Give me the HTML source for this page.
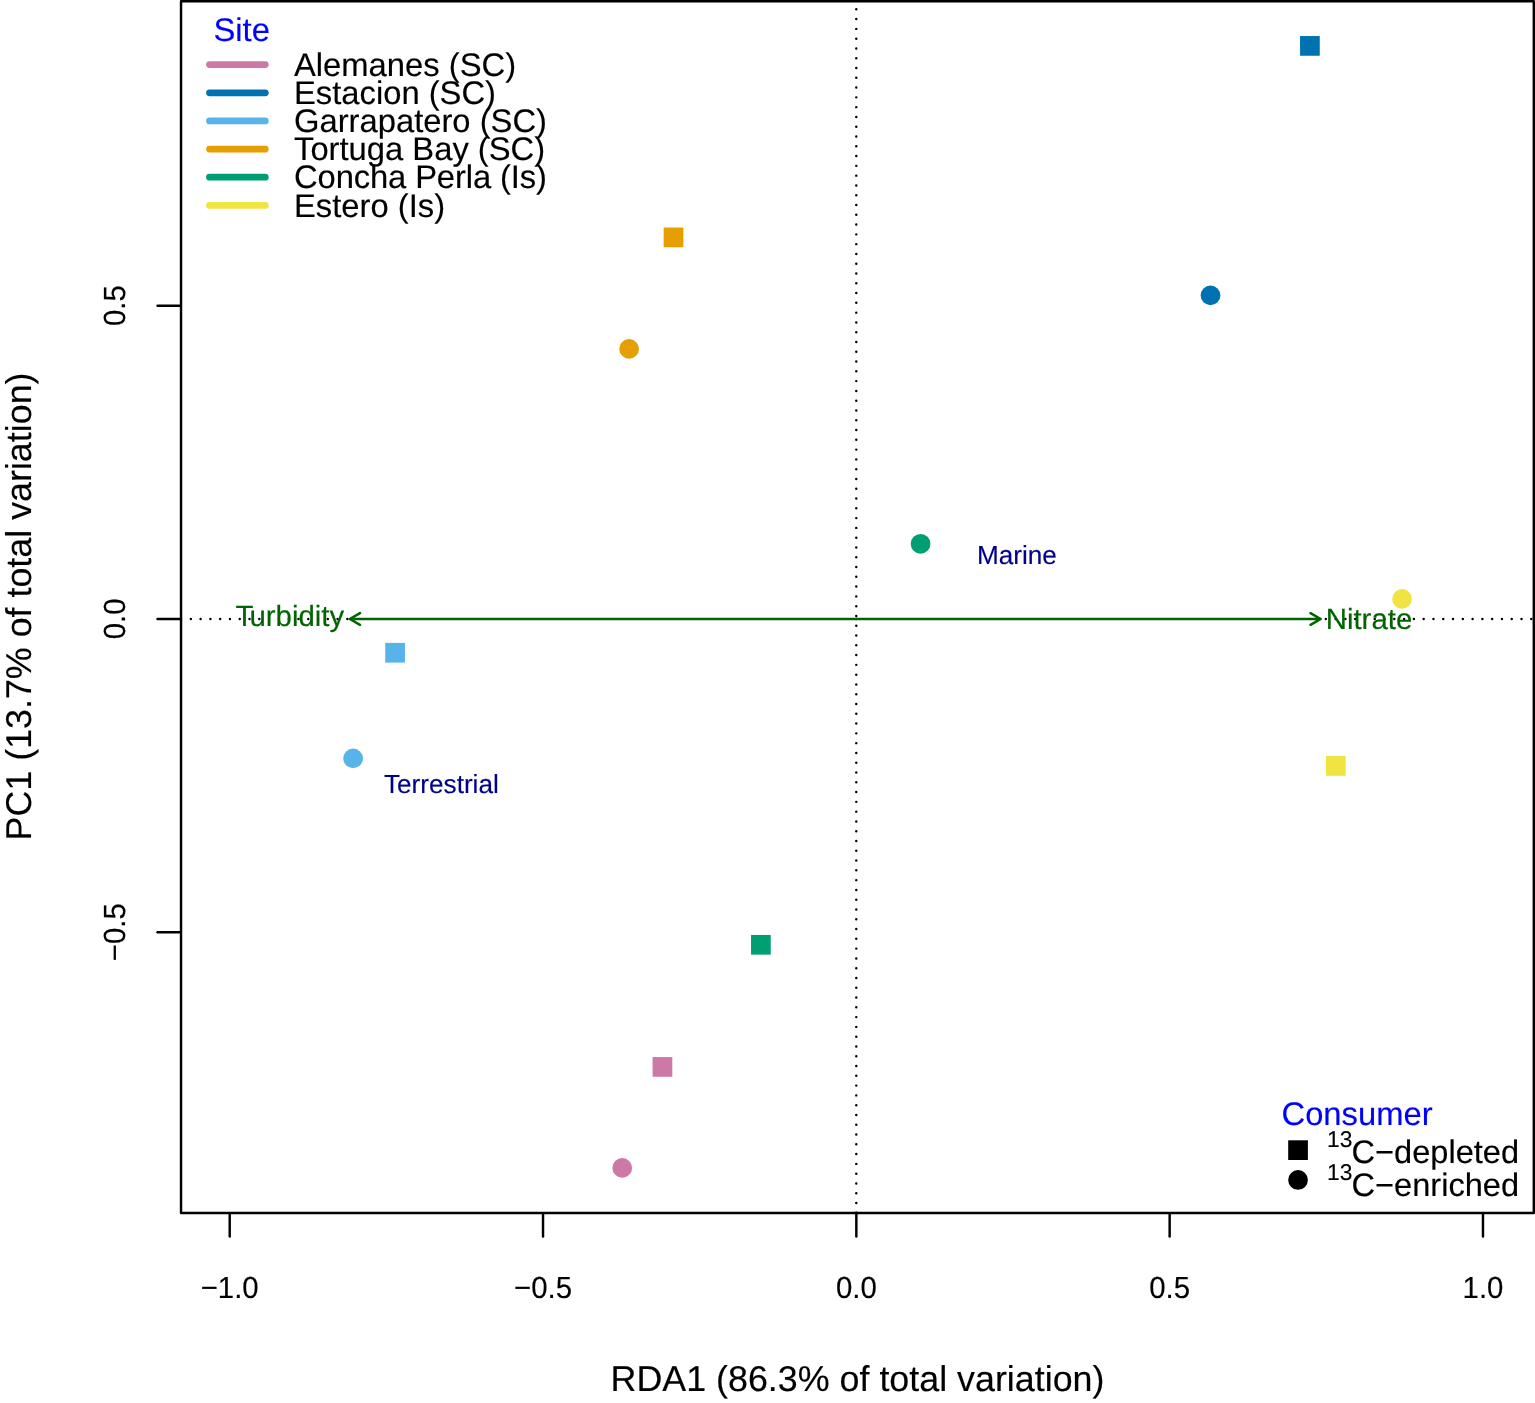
<!DOCTYPE html>
<html lang="en">
<head>
<meta charset="utf-8">
<title>RDA ordination plot</title>
<style>
html,body{margin:0;padding:0;background:#fff;}
body{width:1535px;height:1403px;overflow:hidden;}
svg{display:block;}
text{font-family:'Liberation Sans', sans-serif;stroke-width:0.15px;stroke-linejoin:round;text-rendering:geometricPrecision;}
.ax{font-size:29.4px;fill:#000;stroke:#000;}
.ttl{font-size:35.85px;fill:#000;stroke:#000;}
.leg{font-size:32.75px;fill:#000;stroke:#000;}
.legt{font-size:32.75px;fill:#0000FF;stroke:#0000FF;}
.env{font-size:29.4px;fill:#006400;stroke:#006400;}
.sp{font-size:26.15px;fill:#00008B;stroke:#00008B;}
.ln{stroke:#000;stroke-width:2.446;fill:none;stroke-linecap:round;stroke-linejoin:round;}
.dot{stroke:#000;stroke-width:2.446;fill:none;stroke-linecap:round;stroke-dasharray:0 9.7845;}
.arr{stroke:#006400;stroke-width:2.446;fill:none;stroke-linecap:round;stroke-linejoin:round;}
</style>
</head>
<body>
<svg width="1535" height="1403" viewBox="0 0 1535 1403">
<rect x="0" y="0" width="1535" height="1403" fill="#ffffff"/>

<line class="dot" x1="181.04" y1="618.93" x2="348.5" y2="618.93"/>
<line class="dot" x1="1325.83" y1="618.93" x2="1533.8" y2="618.93"/>
<line class="dot" x1="856.28" y1="1212.8" x2="856.28" y2="1.22"/>
<rect class="ln" x="181.03" y="1.22" width="1352.77" height="1211.78"/>
<line class="ln" x1="229.71" y1="1214.00" x2="229.71" y2="1236.50"/>
<text class="ax" transform="translate(229.71 1297.5) scale(1 1.04)" text-anchor="middle">−1.0</text>
<line class="ln" x1="543.03" y1="1214.00" x2="543.03" y2="1236.50"/>
<text class="ax" transform="translate(543.03 1297.5) scale(1 1.04)" text-anchor="middle">−0.5</text>
<line class="ln" x1="856.34" y1="1214.00" x2="856.34" y2="1236.50"/>
<text class="ax" transform="translate(856.34 1297.5) scale(1 1.04)" text-anchor="middle">0.0</text>
<line class="ln" x1="1169.65" y1="1214.00" x2="1169.65" y2="1236.50"/>
<text class="ax" transform="translate(1169.65 1297.5) scale(1 1.04)" text-anchor="middle">0.5</text>
<line class="ln" x1="1482.97" y1="1214.00" x2="1482.97" y2="1236.50"/>
<text class="ax" transform="translate(1482.97 1297.5) scale(1 1.04)" text-anchor="middle">1.0</text>
<line class="ln" x1="180.03" y1="305.70" x2="157.53" y2="305.70"/>
<text class="ax" transform="translate(125.0 305.70) rotate(-90) scale(1 1.04)" text-anchor="middle">0.5</text>
<line class="ln" x1="180.03" y1="618.95" x2="157.53" y2="618.95"/>
<text class="ax" transform="translate(125.0 618.95) rotate(-90) scale(1 1.04)" text-anchor="middle">0.0</text>
<line class="ln" x1="180.03" y1="932.20" x2="157.53" y2="932.20"/>
<text class="ax" transform="translate(125.0 932.20) rotate(-90) scale(1 1.04)" text-anchor="middle">−0.5</text>
<text class="ttl" x="857.5" y="1391.1" text-anchor="middle">RDA1 (86.3% of total variation)</text>
<text class="ttl" transform="translate(31.0 606.5) rotate(-90)" text-anchor="middle">PC1 (13.7% of total variation)</text>
<path class="arr" d="M856.34 618.95L349.8 618.95M359.98 624.83L349.8 618.95L359.98 613.08"/>
<path class="arr" d="M856.34 618.95L1320.7 618.95M1310.52 613.08L1320.7 618.95L1310.52 624.83"/>
<text class="env" x="344.2" y="625.8" dx="0 -2.9" text-anchor="end">Turbidity</text>
<text class="env" x="1325.7" y="629.0">Nitrate</text>
<text class="sp" x="977" y="564">Marine</text>
<text class="sp" x="384" y="792.6">Terrestrial</text>
<rect x="1300.05" y="36.05" width="19.7" height="19.7" fill="#0072B2"/>
<rect x="663.65" y="227.55" width="19.7" height="19.7" fill="#E69F00"/>
<rect x="385.25" y="642.90" width="19.7" height="19.7" fill="#56B4E9"/>
<rect x="1325.95" y="756.05" width="19.7" height="19.7" fill="#F0E442"/>
<rect x="751.05" y="934.95" width="19.7" height="19.7" fill="#009E73"/>
<rect x="652.60" y="1057.05" width="19.7" height="19.7" fill="#CC79A7"/>
<circle cx="1210.5" cy="295.4" r="9.85" fill="#0072B2"/>
<circle cx="629.1" cy="348.9" r="9.85" fill="#E69F00"/>
<circle cx="920.57" cy="543.8" r="9.85" fill="#009E73"/>
<circle cx="1402.05" cy="598.9" r="9.85" fill="#F0E442"/>
<circle cx="353.1" cy="758.4" r="9.85" fill="#56B4E9"/>
<circle cx="622.24" cy="1167.9" r="9.85" fill="#CC79A7"/>
<text class="legt" x="213.5" y="40.5">Site</text>
<line x1="209.5" y1="64.60" x2="265.3" y2="64.60" stroke="#CC79A7" stroke-width="6.75" stroke-linecap="round"/>
<text class="leg" x="294" y="75.80">Alemanes (SC)</text>
<line x1="209.5" y1="92.76" x2="265.3" y2="92.76" stroke="#0072B2" stroke-width="6.75" stroke-linecap="round"/>
<text class="leg" x="294" y="103.96">Estacion (SC)</text>
<line x1="209.5" y1="120.92" x2="265.3" y2="120.92" stroke="#56B4E9" stroke-width="6.75" stroke-linecap="round"/>
<text class="leg" x="294" y="132.12">Garrapatero (SC)</text>
<line x1="209.5" y1="149.08" x2="265.3" y2="149.08" stroke="#E69F00" stroke-width="6.75" stroke-linecap="round"/>
<text class="leg" x="294" y="160.28">Tortuga Bay (SC)</text>
<line x1="209.5" y1="177.24" x2="265.3" y2="177.24" stroke="#009E73" stroke-width="6.75" stroke-linecap="round"/>
<text class="leg" x="294" y="188.44" letter-spacing="-0.12">Concha Perla (Is)</text>
<line x1="209.5" y1="205.40" x2="265.3" y2="205.40" stroke="#F0E442" stroke-width="6.75" stroke-linecap="round"/>
<text class="leg" x="294" y="216.60">Estero (Is)</text>
<text class="legt" x="1281.5" y="1125.2">Consumer</text>
<rect x="1288.2" y="1140.3" width="19.7" height="19.7" fill="#000"/>
<circle cx="1298.05" cy="1179.95" r="9.85" fill="#000"/>
<text class="leg" style="font-size:32.6px" x="1327.1" y="1163.2"><tspan font-size="22.8px" dy="-16.5">13</tspan><tspan dy="16.5" dx="-0.9">C−depleted</tspan></text>
<text class="leg" style="font-size:32.6px" x="1327.1" y="1196.1"><tspan font-size="22.8px" dy="-16.5">13</tspan><tspan dy="16.5" dx="-0.9">C−enriched</tspan></text>
</svg>
</body>
</html>
